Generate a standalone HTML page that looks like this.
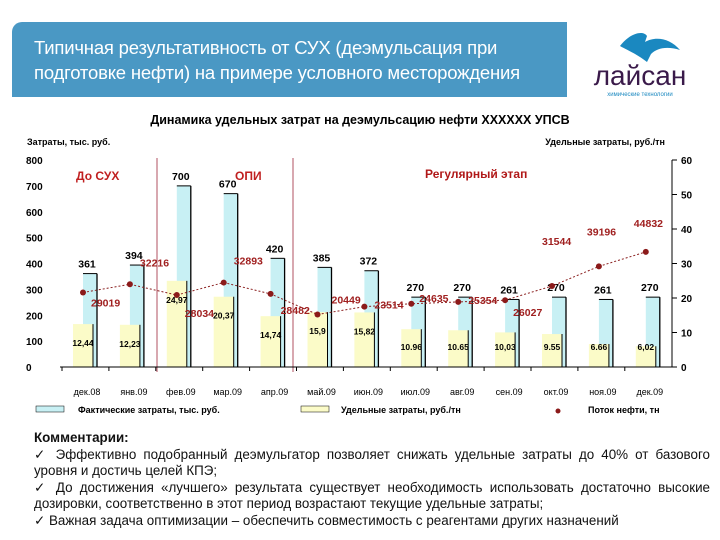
<!DOCTYPE html>
<html><head><meta charset="utf-8"><style>
body{margin:0;width:720px;height:540px;background:#fff;overflow:hidden;font-family:"Liberation Sans",sans-serif;position:relative}
#hdr{position:absolute;left:12px;top:22px;width:555px;height:75px;background:#4a98c4;border-radius:10px 0 0 0;color:#fff;font-size:18.5px;line-height:25px;padding:13px 0 0 22px;box-sizing:border-box;letter-spacing:-0.2px}
#logo{position:absolute;left:575px;top:28px;width:130px;height:70px}
#cm{position:absolute;left:34px;top:430px;width:676px;font-size:13.4px;line-height:16.5px;color:#111;text-align:justify}
</style></head><body>
<div id="hdr">Типичная результативность от СУХ (деэмульсация при<br>подготовке нефти) на примере условного месторождения</div>
<svg id="logo" viewBox="0 0 130 70">
<path d="M45 18 C55 5 68 2 72 8 L70 14 C80 8 95 10 105 22 C92 18 82 20 76 26 L72 34 C62 26 52 22 45 18Z" fill="#1a88c0"/>
<text x="65" y="57" text-anchor="middle" font-size="28" fill="#3a1a4a" font-family="Liberation Sans">лайсан</text>
<text x="65" y="68" text-anchor="middle" font-size="6" fill="#1a88c0">химические технологии</text>
</svg>
<svg id="chart" width="720" height="430" style="position:absolute;left:0;top:0"></svg>
<div id="cm"><b>Комментарии:</b><br>✓ Эффективно подобранный деэмульгатор позволяет снижать удельные затраты до 40% от базового уровня и достичь целей КПЭ;<br>✓ До достижения «лучшего» результата существует необходимость использовать достаточно высокие дозировки, соответственно в этот период возрастают текущие удельные затраты;<br>✓ Важная задача оптимизации – обеспечить совместимость с реагентами других назначений</div>
<script>
const categories=["дек.08","янв.09","фев.09","мар.09","апр.09","май.09","июн.09","июл.09","авг.09","сен.09","окт.09","ноя.09","дек.09"];
const actualCost=[361,394,700,670,420,385,372,270,270,261,270,261,270];
const unitCost=[12.44,12.23,24.97,20.37,14.74,15.9,15.82,10.96,10.65,10.03,9.55,6.66,6.02];
const unitLabels=["12,44","12,23","24,97","20,37","14,74","15,9","15,82","10.96","10.65","10,03","9.55","6.66","6,02"];
const oilFlow=[29019,32216,28034,32893,28482,20449,23514,24635,25354,26027,31544,39196,44832];
const leftTicks=[0,100,200,300,400,500,600,700,800];
const rightTicks=[0,10,20,30,40,50,60];
const flowLabelOff=[[8,10],[10,-22],[8,18],[10,-22],[10,16],[14,-15],[10,-2],[8,-6],[10,-2],[8,12],[-10,-45],[-12,-35],[-12,-29]];
const NS="http://www.w3.org/2000/svg",svg=document.getElementById('chart');
const y0=367,ph=207,xL=60,xR=672,c0=85,step=46.9;
const yL=v=>y0-v/800*ph, yR=v=>y0-v/60*ph, yF=v=>y0-v*0.002567, xC=i=>c0+i*step;
function el(t,a,txt){const e=document.createElementNS(NS,t);for(const k in a)e.setAttribute(k,a[k]);if(txt!==undefined)e.textContent=txt;svg.appendChild(e);return e;}
let e;
e=el('text',{x:360,y:124,'text-anchor':'middle','font-size':12.5,'font-weight':'bold'},'Динамика удельных затрат на деэмульсацию нефти ХХХХХХ УПСВ');

e=el('text',{x:27,y:145,'font-size':9,'font-weight':'bold'},'Затраты, тыс. руб.');

e=el('text',{x:665,y:145,'text-anchor':'end','font-size':9,'font-weight':'bold'},'Удельные затраты, руб./тн');

leftTicks.forEach(v=>{e=el('text',{x:26,y:yL(v)+4,'font-size':10,'font-weight':'bold'},v);
});
rightTicks.forEach(v=>{e=el('text',{x:681,y:yR(v)+4,'font-size':10,'font-weight':'bold'},v);

e=el('line',{x1:xR,x2:xR+5,y1:yR(v),y2:yR(v),stroke:'#000'});
});
[157,293].forEach(x=>{e=el('line',{x1:x,x2:x,y1:158,y2:372,stroke:'#b05060','stroke-width':1});
});
[["До СУХ",76],["ОПИ",235]].forEach(p=>{e=el('text',{x:p[1],y:180,'font-size':12,'font-weight':'bold',fill:'#c02020'},p[0]);
});
e=el('text',{x:425,y:178,'font-size':12,'font-weight':'bold',fill:'#b01818'},'Регулярный этап');

categories.forEach((c,i)=>{const x=xC(i);
e=el('rect',{x:x-2,y:yL(actualCost[i]),width:14,height:y0-yL(actualCost[i]),fill:'#c8f0f4'});

e=el('line',{x1:x+12,x2:x+12,y1:yL(actualCost[i]),y2:y0,stroke:'#000','stroke-width':1.3});

e=el('line',{x1:x-2,x2:x+12,y1:yL(actualCost[i]),y2:yL(actualCost[i]),stroke:'#000','stroke-width':1});

e=el('text',{x:x+2,y:yL(actualCost[i])-6,'text-anchor':'middle','font-size':10.5,'font-weight':'bold'},actualCost[i]);

e=el('rect',{x:x-12,y:yR(unitCost[i]),width:20,height:y0-yR(unitCost[i]),fill:'#fbfbc8'});

e=el('line',{x1:x+8,x2:x+8,y1:yR(unitCost[i]),y2:y0,stroke:'#000','stroke-width':1});

e=el('text',{x:x-2,y:Math.min(yR(unitCost[i])+22,350),'text-anchor':'middle','font-size':8.5,'font-weight':'bold'},unitLabels[i]);

e=el('text',{x:x+2,y:395,'text-anchor':'middle','font-size':9},c);

e=el('line',{x1:x-23,x2:x-23,y1:y0,y2:y0+4,stroke:'#000'});

});
e=el('line',{x1:xL,x2:xR,y1:y0,y2:y0,stroke:'#000'});

e=el('line',{x1:xR,x2:xR,y1:160,y2:y0,stroke:'#000'});

e=el('polyline',{points:oilFlow.map((v,i)=>(xC(i)-2)+','+yF(v)).join(' '),fill:'none',stroke:'#8b2020','stroke-dasharray':'2,2','stroke-width':1});

oilFlow.forEach((v,i)=>{const x=xC(i)-2,y=yF(v);
e=el('circle',{cx:x,cy:y,r:3,fill:'#8b1a1a'});

e=el('text',{x:x+flowLabelOff[i][0],y:y+flowLabelOff[i][1]+4,'font-size':10.5,'font-weight':'bold',fill:'#a02020'},v);
});
e=el('rect',{x:36,y:406,width:28,height:6,fill:'#c8f0f4',stroke:'#000','stroke-width':0.5});

e=el('text',{x:78,y:413,'font-size':9,'font-weight':'bold'},'Фактические затраты, тыс. руб.');

e=el('rect',{x:301,y:406,width:28,height:6,fill:'#fbfbc8',stroke:'#000','stroke-width':0.5});

e=el('text',{x:341,y:413,'font-size':9,'font-weight':'bold'},'Удельные затраты, руб./тн');

e=el('circle',{cx:558,cy:411,r:2.5,fill:'#8b1a1a'});

e=el('text',{x:588,y:413,'font-size':9,'font-weight':'bold'},'Поток нефти, тн');

</script>
</body></html>
